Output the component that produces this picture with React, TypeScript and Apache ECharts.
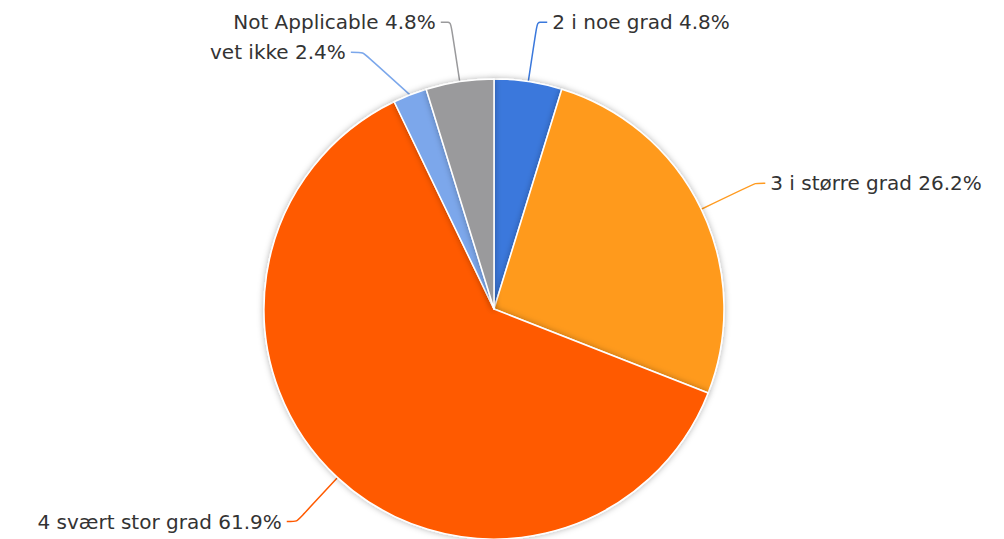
import React, { useEffect, useRef } from "react";
import * as echarts from "echarts";

const categories = ["2 i noe grad", "3 i større grad", "4 svært stor grad", "vet ikke", "Not Applicable"];
const values = [2, 11, 26, 1, 2];
const colors = ["#3a78dc", "#ff9a1f", "#ff5a00", "#7ba7eb", "#9a9a9c"];
const extraLen2 = [10, 10, 10, 12, 10];

export default function App() {
  const ref = useRef<HTMLDivElement>(null);
  useEffect(() => {
    document.body.style.margin = "0";
    const chart = echarts.init(ref.current!, undefined, { renderer: "svg" });
    const total = values.reduce((a, b) => a + b, 0);
    chart.setOption({
      animation: false,
      series: [
        {
          type: "pie",
          center: [494, 309],
          radius: 230,
          startAngle: 90,
          clockwise: true,
          avoidLabelOverlap: true,
          data: categories.map((name, i) => ({
            name,
            value: values[i],
            itemStyle: { color: colors[i] },
            labelLine: { length2: extraLen2[i] },
          })),
          itemStyle: {
            borderColor: "#ffffff",
            borderWidth: 1.5,
            shadowBlur: 6,
            shadowColor: "rgba(0,0,0,0.3)",
          },
          label: {
            formatter: (p: any) => `${p.name} ${((p.value / total) * 100).toFixed(1)}%`,
            color: "#333333",
            fontFamily: "DejaVu Sans",
            fontSize: 20,
            lineHeight: 28,
          },
          labelLine: {
            length: 60,
            length2: 10,
            smooth: 0.2,
            lineStyle: { width: 1.5 },
          },
          emphasis: { disabled: true },
        },
      ],
    });
    return () => chart.dispose();
  }, []);
  return <div ref={ref} style={{ width: 1004, height: 539 }} />;
}
